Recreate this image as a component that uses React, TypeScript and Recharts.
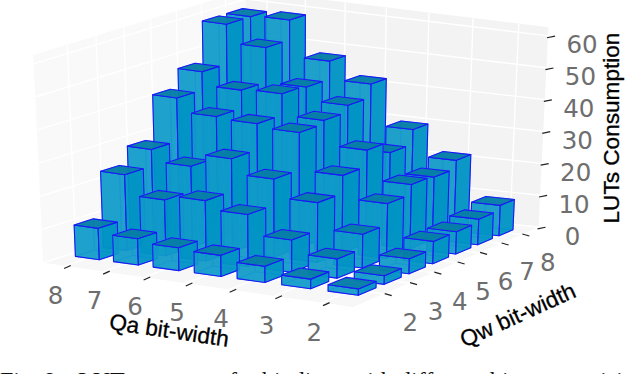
import { ScatterChart, Scatter, XAxis, YAxis } from "recharts"

const WIDTH = 628
const HEIGHT = 374

// Qa runs left to right along the front edge, Qw runs back to the right
const qaBits = [8, 7, 6, 5, 4, 3, 2]
const qwBits = [2, 3, 4, 5, 6, 7, 8]
const zTicks = [0, 10, 20, 30, 40, 50, 60]

// LUTs consumption per Qa bit-width, one value per Qw bit-width
const lutsQa8 = [9.5, 23, 28, 41, 46.5, 58.5, 58.5]
const lutsQa7 = [8, 17, 24.5, 37, 42.5, 53, 59]
const lutsQa6 = [7, 18.5, 28.5, 36.5, 43, 42.5, 48]
const lutsQa5 = [6.5, 16, 24, 35.5, 36.5, 38.5, 42.5]
const lutsQa4 = [5, 10, 18.5, 24, 29, 25.5, 30]
const lutsQa3 = [3, 6, 10.5, 17, 20, 19.5, 22]
const lutsQa2 = [2, 2.7, 4.7, 7, 7, 8, 9.5]
const luts = [lutsQa8, lutsQa7, lutsQa6, lutsQa5, lutsQa4, lutsQa3, lutsQa2]

// floor corners of the bar grid on the page, used to fit the 3d view
const quad = [
  [99.3, 259.7],
  [358.3, 295.3],
  [499, 235.7],
  [252, 209.7],
]
const U_MIN = -0.86
const U_MAX = 6.34
const V_MIN = -0.82
const V_MAX = 7.18
const Z_MAX = 62.7
const BAR_U = 0.63
const BAR_V = 0.68

const [[x0, y0], [x1, y1], [x2, y2], [x3, y3]] = quad
const dx1 = x1 - x2
const dx2 = x3 - x2
const sx = x0 - x1 + x2 - x3
const dy1 = y1 - y2
const dy2 = y3 - y2
const sy = y0 - y1 + y2 - y3
const den = dx1 * dy2 - dx2 * dy1
const g = (sx * dy2 - dx2 * sy) / den
const h = (dx1 * sy - sx * dy1) / den
const a = x1 - x0 + g * x1
const b = x3 - x0 + h * x3
const d = y1 - y0 + g * y1
const e = y3 - y0 + h * y3

function project(u: number, v: number, z = 0): [number, number] {
  const uu = u / 6
  const vv = v / 6
  const w = g * uu + h * vv + 1
  const px = (a * uu + b * vv + x0) / w
  const py = (d * uu + e * vv + y0) / w
  const zScale = 3.3 - 0.018 * u
  return [px + (px - 291) * 0.00064 * z, py - z * zScale]
}

function poly(points: [number, number][], ox: number, oy: number) {
  return points.map(([x, y]) => `${x - ox},${y - oy}`).join(" ")
}

type BarRow = { x: number; y: number; u: number; v: number; value: number }

const barRows: BarRow[] = []
for (let j = qwBits.length - 1; j >= 0; j--) {
  for (let i = 0; i < qaBits.length; i++) {
    const [x, y] = project(i, j)
    barRows.push({ x, y, u: i, v: j, value: luts[i][j] })
  }
}

function BarShape(props: any) {
  const { cx, cy, payload } = props
  const { u, v, value } = payload as BarRow
  const [ox, oy] = project(u, v)
  const off = (p: [number, number]) => poly([p], ox - cx, oy - cy)
  const pts = (...list: [number, number][]) => list.map(off).join(" ")
  const u0 = u - BAR_U
  const v1 = v + BAR_V
  const fl = project(u, v)
  const ll = project(u0, v)
  const rl = project(u, v1)
  const bl = project(u0, v1)
  const ft = project(u, v, value)
  const lt = project(u0, v, value)
  const rt = project(u, v1, value)
  const bt = project(u0, v1, value)
  const edge = { stroke: "#1a1af5", strokeWidth: 1.1, strokeLinejoin: "round" as const }
  return (
    <g>
      <polygon points={pts(ll, fl, rl, bl)} fill="#1aa0d0" fillOpacity={0.6} stroke="#3f7dff" strokeWidth={0.8} />
      <polygon points={pts(ll, bl, bt, lt)} fill="#0596c8" fillOpacity={0.55} stroke="#3f7dff" strokeWidth={0.7} />
      <polygon points={pts(bl, rl, rt, bt)} fill="#0596c8" fillOpacity={0.55} stroke="#3f7dff" strokeWidth={0.7} />
      <polygon points={pts(ll, fl, ft, lt)} fill="#109bc8" fillOpacity={0.86} {...edge} />
      <polygon points={pts(fl, rl, rt, ft)} fill="#0093c4" fillOpacity={0.9} {...edge} />
      <polygon points={pts(lt, ft, rt, bt)} fill="#067da6" fillOpacity={0.95} {...edge} />
    </g>
  )
}

type PaneRow = { x: number; y: number; pane: string }
const paneRows: PaneRow[] = ["floor", "left", "right"].map((pane) => ({ x: 0, y: 0, pane }))

function PaneShape(props: any) {
  const { cx, cy, payload } = props
  const pane = payload.pane as string
  const line = (p: [number, number], q: [number, number], key: string | number) => (
    <line key={key} x1={p[0] + cx} y1={p[1] + cy} x2={q[0] + cx} y2={q[1] + cy} stroke="#fff" strokeWidth={1.4} />
  )
  if (pane === "floor") {
    return (
      <g>
        <polygon
          points={poly([project(U_MIN, V_MIN), project(U_MAX, V_MIN), project(U_MAX, V_MAX), project(U_MIN, V_MAX)], -cx, -cy)}
          fill="#f7f7f7"
        />
        {qaBits.map((_, i) => line(project(i - 0.29, V_MIN), project(i - 0.29, V_MAX), `u${i}`))}
        {qwBits.map((_, j) => line(project(U_MIN, j + 0.32), project(U_MAX, j + 0.32), `v${j}`))}
      </g>
    )
  }
  if (pane === "left") {
    return (
      <g>
        <polygon
          points={poly([project(U_MIN, V_MIN), project(U_MIN, V_MAX), project(U_MIN, V_MAX, Z_MAX), project(U_MIN, V_MIN, Z_MAX)], -cx, -cy)}
          fill="#f9f9f9"
        />
        {qwBits.map((_, j) => line(project(U_MIN, j + 0.32), project(U_MIN, j + 0.32, Z_MAX), `v${j}`))}
        {zTicks.map((z) => line(project(U_MIN, V_MIN, z), project(U_MIN, V_MAX, z), `z${z}`))}
      </g>
    )
  }
  return (
    <g>
      <polygon
        points={poly([project(U_MIN, V_MAX), project(U_MAX, V_MAX), project(U_MAX, V_MAX, Z_MAX), project(U_MIN, V_MAX, Z_MAX)], -cx, -cy)}
        fill="#f3f3f3"
      />
      {qaBits.map((_, i) => line(project(i - 0.29, V_MAX), project(i - 0.29, V_MAX, Z_MAX), `u${i}`))}
      {zTicks.map((z) => line(project(U_MIN, V_MAX, z), project(U_MAX, V_MAX, z), `z${z}`))}
    </g>
  )
}

// tick marks and their labels, placed on the edges of the box
type TickRow = { x: number; y: number; label: number; tx: number; ty: number; lx: number; ly: number }

const qaTickRows: TickRow[] = qaBits.map((label, i) => {
  const [x, y] = project(i - 0.17, V_MIN - 0.06)
  return { x, y, label, tx: 3.3, ty: -1.5, lx: -12, ly: 28 }
})
const qwTickRows: TickRow[] = qwBits.map((label, j) => {
  const [x, y] = project(U_MAX + 0.1, j + 0.32)
  return { x, y, label, tx: 3.5, ty: 1, lx: 22, ly: 28 }
})
const zTickRows: TickRow[] = zTicks.map((label) => {
  const [x, y] = project(U_MAX, V_MAX, label)
  return { x: x + 3, y: y + 1, label, tx: 4, ty: -0.8, lx: 31, ly: 8 }
})

function TickShape(props: any) {
  const { cx, cy, payload } = props
  const { label, tx, ty, lx, ly } = payload as TickRow
  return (
    <g>
      <line x1={cx - tx} y1={cy - ty} x2={cx + tx} y2={cy + ty} stroke="#222" strokeWidth={1.2} />
      <text
        x={cx + lx}
        y={cy + ly}
        textAnchor="middle"
        dominantBaseline="central"
        fontFamily="DejaVu Sans"
        fontSize={24.5}
        fill="#6e6e6e"
      >
        {label}
      </text>
    </g>
  )
}

const titleFont = {
  fontFamily: "Liberation Sans",
  fontSize: 22.6,
  fill: "#000",
  stroke: "#000",
  strokeWidth: 0.3,
  textAnchor: "middle" as const,
}
const captionFont = { fontFamily: "Liberation Serif", fontSize: 24, fill: "#111" }

export default function App() {
  return (
    <div style={{ position: "fixed", left: 0, top: 0, width: WIDTH, height: HEIGHT, background: "#fff" }}>
      <ScatterChart width={WIDTH} height={HEIGHT} margin={{ top: 0, right: 0, bottom: 0, left: 0 }}>
        <XAxis type="number" dataKey="x" domain={[0, WIDTH]} hide />
        <YAxis type="number" dataKey="y" domain={[0, HEIGHT]} reversed hide />
        <Scatter data={paneRows} shape={PaneShape} isAnimationActive={false} />
        <Scatter data={qaTickRows} shape={TickShape} isAnimationActive={false} />
        <Scatter data={qwTickRows} shape={TickShape} isAnimationActive={false} />
        <Scatter data={zTickRows} shape={TickShape} isAnimationActive={false} />
        <Scatter data={barRows} shape={BarShape} isAnimationActive={false} />
        <text x={168} y={338} transform="rotate(8.5 168 338)" {...titleFont}>Qa bit-width</text>
        <text x={521} y={322} transform="rotate(-24.5 521 322)" {...titleFont}>Qw bit-width</text>
        <text x={619} y={128} transform="rotate(-90 619 128)" {...titleFont}>LUTs Consumption</text>
        <text y={388} {...captionFont}>
          <tspan x={0}>Fig. 9.</tspan>
          <tspan x={78}>LUT usage</tspan>
          <tspan x={217}>of</tspan>
          <tspan x={262}>binding</tspan>
          <tspan x={350}>with</tspan>
          <tspan x={399}>different</tspan>
          <tspan x={490}>bit</tspan>
          <tspan x={559}>precision</tspan>
        </text>
      </ScatterChart>
    </div>
  )
}
